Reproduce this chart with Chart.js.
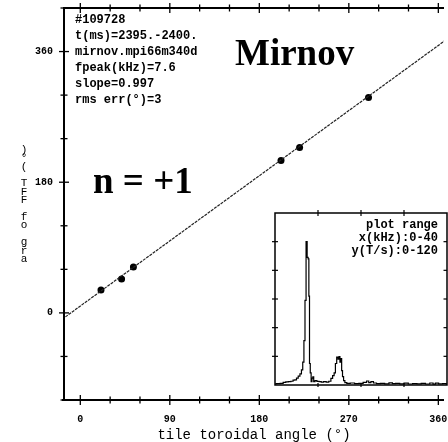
<!DOCTYPE html>
<html>
<head>
<meta charset="utf-8">
<script src="https://cdn.jsdelivr.net/npm/chart.js@4"></script>
<style>
  html, body { margin: 0; padding: 0; background: #fff; overflow: hidden; }
  #wrap { position: relative; width: 448px; height: 442px; overflow: hidden; }
  #main { position: absolute; left: 0; top: 0; }
  #inset { position: absolute; left: 269px; top: 207px; }
</style>
</head>
<body>
<div id="wrap">
  <canvas id="main" width="448" height="442"></canvas>
  <canvas id="inset" width="184" height="184"></canvas>
</div>
<script>
// phase of the FFT at fpeak for each coil, against its toroidal angle
const coilAngles = [20.8, 41.5, 53.4, 201.8, 220.5, 289.8]
const coilPhases = [31.6, 46.7, 63.2, 210, 228, 296.8]

// fitted straight line (slope 0.997), end points
const fitAngles = [-15, 366]
const fitPhases = [-5.5, 374.4]

const angleTicks = [0, 30, 60, 90, 120, 150, 180, 210, 240, 270, 300, 330, 360]
const angleLabels = [0, 90, 180, 270, 360]
const phaseTicks = [-120, -60, 0, 60, 120, 180, 240, 300, 360, 420]
const phaseLabels = [0, 180, 360]

const infoLines = ['#109728', 't(ms)=2395.-2400.', 'mirnov.mpi66m340d', 'fpeak(kHz)=7.6', 'slope=0.997', 'rms err(°)=3']
const yTitle = 'arg of FFT (°)'

// amplitude spectrum of the coil signal
const spectrumKHz = [0, 0.8, 1.6, 2.2, 2.8, 3.4, 4.0, 4.4, 4.8, 5.2, 5.6, 6.0, 6.3, 6.6, 6.85, 7.1, 7.35, 7.6, 7.8, 7.95, 8.1, 8.3, 8.5, 8.7, 8.9, 9.1, 9.5, 10.0, 10.5, 11.0, 11.6, 12.2, 12.8, 13.2, 13.6, 13.9, 14.2, 14.5, 14.8, 15.0, 15.2, 15.4, 15.6, 15.8, 16.1, 16.4, 17, 18, 19, 20, 21, 21.6, 22, 22.6, 23.2, 24, 25, 26, 27, 27.6, 28.5, 29.5, 30.5, 31.5, 32.5, 33.5, 34.5, 35.5, 36.5, 37, 37.6, 38.5, 39.5, 40]
const spectrumAmp = [0.8, 1.0, 1.2, 1.8, 2.2, 2.3, 2.6, 3.4, 3.6, 4.8, 6.2, 7.8, 10.5, 16, 31, 59, 100, 89, 88, 62, 15, 8.4, 2.3, 4.8, 5.6, 2.3, 3.0, 2.5, 2.4, 2.0, 2.3, 2.0, 2.6, 4.6, 6.5, 8.4, 15, 19.5, 18, 19.8, 16, 18.5, 10, 5.8, 3.0, 1.6, 1.2, 1.4, 1.0, 1.2, 1.8, 2.8, 1.6, 2.4, 1.4, 1.0, 1.2, 0.8, 1.5, 0.9, 1.1, 0.8, 1.3, 0.7, 1.0, 0.8, 1.1, 0.7, 1.4, 0.6, 1.3, 0.8, 0.9, 0.8]
const insetXTicks = [10, 20, 30]
const insetYTicks = [20, 40, 60, 80, 100]
const rangeLines = ['plot range', 'x(kHz):0-40', 'y(T/s):0-120']

const mono = '"Liberation Mono", "DejaVu Sans Mono", monospace'

const tick = (ctx, x1, y1, x2, y2) => {
    ctx.beginPath()
    ctx.moveTo(x1, y1)
    ctx.lineTo(x2, y2)
    ctx.stroke()
}

const mainFrame = {
    id: 'mainFrame',
    afterDraw(chart) {
        const { ctx, chartArea: { left, top, right, bottom }, scales: { x, y } } = chart
        ctx.save()
        ctx.strokeStyle = '#000'
        ctx.lineWidth = 2
        tick(ctx, left, top - 1, left, bottom + 1)
        tick(ctx, left - 1, top, right, top)
        tick(ctx, left - 2, bottom, right, bottom)

        ctx.lineWidth = 1.3
        for (const v of angleTicks) {
            const px = x.getPixelForValue(v)
            const len = angleLabels.includes(v) ? 5 : 3.5
            tick(ctx, px, top - len, px, top + len)
            tick(ctx, px, bottom - len, px, bottom + len)
        }
        for (const v of phaseTicks) {
            const py = y.getPixelForValue(v)
            const len = phaseLabels.includes(v) ? 5 : 3.5
            tick(ctx, left - len, py, left + len, py)
        }

        ctx.fillStyle = '#000'
        ctx.textBaseline = 'middle'
        ctx.textAlign = 'left'
        ctx.font = `bold 12px ${mono}`
        infoLines.forEach((line, i) => ctx.fillText(line, 75, 19.5 + i * 16))

        // y title: upright characters stacked bottom to top
        ctx.textAlign = 'center'
        ctx.font = `11px ${mono}`
        Array.from(yTitle).forEach((ch, i) => ctx.fillText(ch, 24, 259 - i * 8.4))

        ctx.textBaseline = 'alphabetic'
        ctx.textAlign = 'left'
        ctx.font = 'bold 37px "Liberation Serif", "Times New Roman", serif'
        ctx.fillText('Mirnov', 235, 65)
        ctx.fillText('n = +1', 93, 193)
        ctx.restore()
    }
}

new Chart(document.getElementById('main'), {
    type: 'scatter',
    data: {
        datasets: [
            {
                data: fitAngles.map((a, i) => ({ x: a, y: fitPhases[i] })),
                showLine: true,
                borderColor: '#222',
                borderWidth: 1.2,
                borderDash: [3, 1],
                pointRadius: 0
            },
            {
                data: coilAngles.map((a, i) => ({ x: a, y: coilPhases[i] })),
                pointRadius: 3.5,
                pointBackgroundColor: '#000',
                pointBorderColor: '#000',
                pointBorderWidth: 0
            }
        ]
    },
    options: {
        responsive: false,
        animation: false,
        layout: { padding: { top: 8, left: 0, right: 0, bottom: 0 } },
        plugins: {
            legend: { display: false },
            tooltip: { enabled: false }
        },
        scales: {
            x: {
                type: 'linear',
                min: -16.4,
                max: 365.7,
                grid: { display: false, drawTicks: false },
                border: { display: false },
                afterBuildTicks: s => { s.ticks = angleTicks.map(value => ({ value })) },
                afterFit: s => { s.height = 42; s.paddingLeft = 0; s.paddingRight = 0 },
                ticks: {
                    padding: 13,
                    maxRotation: 0,
                    autoSkip: false,
                    color: '#000',
                    font: { family: mono, size: 10, weight: 'bold' },
                    callback: v => angleLabels.includes(v) ? String(v) : ''
                },
                title: {
                    display: true,
                    text: 'tile toroidal angle (°)',
                    color: '#000',
                    padding: 0,
                    font: { family: mono, size: 14, lineHeight: 1 }
                }
            },
            y: {
                type: 'linear',
                min: -120,
                max: 420,
                grid: { display: false, drawTicks: false },
                border: { display: false },
                afterBuildTicks: s => { s.ticks = phaseTicks.map(value => ({ value })) },
                afterFit: s => { s.width = 64; s.paddingTop = 0; s.paddingBottom = 0 },
                ticks: {
                    padding: 11,
                    autoSkip: false,
                    color: '#000',
                    font: { family: mono, size: 10, weight: 'bold' },
                    callback: v => phaseLabels.includes(v) ? String(v) : ''
                }
            }
        }
    },
    plugins: [mainFrame]
})

const insetFrame = {
    id: 'insetFrame',
    beforeDraw(chart) {
        const { ctx, chartArea: { left, top, right, bottom } } = chart
        ctx.save()
        ctx.fillStyle = '#fff'
        ctx.fillRect(left, top, right - left, bottom - top)
        ctx.restore()
    },
    afterDraw(chart) {
        const { ctx, chartArea: { left, top, right, bottom }, scales: { x, y } } = chart
        ctx.save()
        ctx.strokeStyle = '#000'
        ctx.lineWidth = 1.5
        ctx.strokeRect(left, top, right - left, bottom - top)

        ctx.lineWidth = 1.2
        for (const v of insetXTicks) {
            const px = x.getPixelForValue(v)
            tick(ctx, px, top - 3, px, top + 3)
            tick(ctx, px, bottom - 2, px, bottom + 2)
        }
        for (const v of insetYTicks) {
            const py = y.getPixelForValue(v)
            tick(ctx, left - 3, py, left + 3, py)
            tick(ctx, right - 3.5, py, right, py)
        }

        ctx.fillStyle = '#000'
        ctx.font = `bold 12px ${mono}`
        ctx.textAlign = 'right'
        ctx.textBaseline = 'middle'
        rangeLines.forEach((line, i) => ctx.fillText(line, right - 9, top + 12 + i * 13))
        ctx.restore()
    }
}

new Chart(document.getElementById('inset'), {
    type: 'scatter',
    data: {
        datasets: [{
            data: spectrumKHz.map((f, i) => ({ x: f, y: spectrumAmp[i] })),
            showLine: true,
            stepped: 'middle',
            borderColor: '#000',
            borderWidth: 1.2,
            pointRadius: 0
        }]
    },
    options: {
        responsive: false,
        animation: false,
        layout: { padding: 6 },
        plugins: {
            legend: { display: false },
            tooltip: { enabled: false }
        },
        scales: {
            x: { type: 'linear', min: 0, max: 40, display: false },
            y: { type: 'linear', min: 0, max: 120, display: false }
        }
    },
    plugins: [insetFrame]
})
</script>
</body>
</html>
